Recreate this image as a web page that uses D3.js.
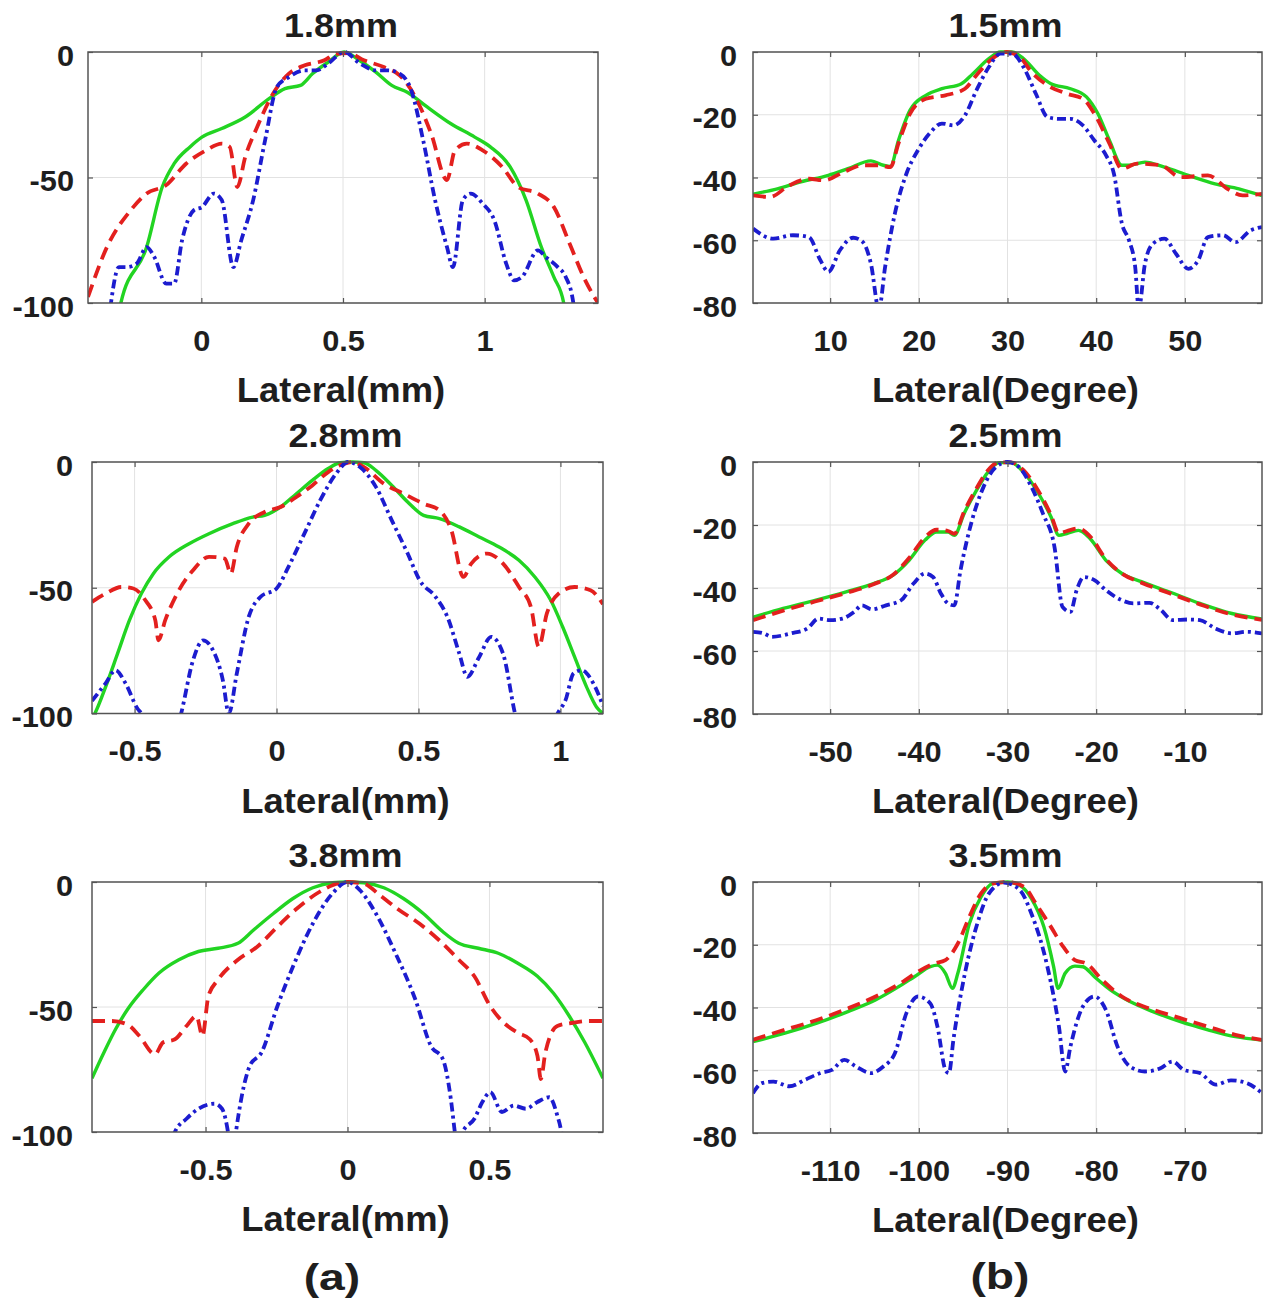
<!DOCTYPE html>
<html><head><meta charset="utf-8">
<script src="https://cdn.jsdelivr.net/npm/d3@7"></script>
<style>
body{margin:0;background:#fff}
svg text{font-family:"Liberation Sans",Arial,sans-serif;font-weight:bold;fill:#1e1e1e}
</style></head>
<body><svg id="c" width="1274" height="1298"></svg>
<script>
// ---------- data ----------
const titles = ["1.8mm","1.5mm","2.8mm","2.5mm","3.8mm","3.5mm"];
const xLabels = ["Lateral(mm)","Lateral(Degree)","Lateral(mm)","Lateral(Degree)","Lateral(mm)","Lateral(Degree)"];
const xDomains = [[-0.4,1.4],[1.3,58.7],[-0.65,1.15],[-58.7,-1.3],[-0.9,0.9],[-118.7,-61.3]];
const yDomains = [[-100,0],[-80,0],[-100,0],[-80,0],[-100,0],[-80,0]];
const xTicks = [[0,0.5,1],[10,20,30,40,50],[-0.5,0,0.5,1],[-50,-40,-30,-20,-10],[-0.5,0,0.5],[-110,-100,-90,-80,-70]];
const yTicksMm = [0,-50,-100];
const yTicksDeg = [0,-20,-40,-60,-80];
const panelLetters = ["(a)","(b)"];

// 1.8 mm
const green18 = [[-0.30,-110],[-0.284,-100],[-0.193,-77.7],[-0.138,-53.8],[-0.096,-44.5],[-0.04,-37.8],[0.002,-33.9],[0.072,-30.5],[0.155,-25.9],[0.239,-18.6],[0.295,-14.6],[0.35,-13.3],[0.393,-8.6],[0.448,-4],[0.504,0],[0.56,-3.5],[0.616,-8],[0.672,-13.3],[0.727,-16],[0.797,-21.9],[0.881,-28.6],[0.965,-33.9],[1.02,-37.8],[1.09,-45.8],[1.146,-59],[1.2,-77.7],[1.244,-89.6],[1.279,-100],[1.29,-110]];
const red18 = [[-0.4,-97.6],[-0.333,-77.7],[-0.249,-63],[-0.193,-56.4],[-0.124,-53],[-0.054,-44.5],[0.016,-39.2],[0.072,-36.5],[0.1,-37.8],[0.127,-53.8],[0.155,-41.8],[0.197,-29.9],[0.253,-16.6],[0.309,-8.6],[0.365,-5.3],[0.434,-3.3],[0.476,-0.7],[0.518,-0.4],[0.574,-3.3],[0.644,-6],[0.7,-9.3],[0.755,-17.9],[0.811,-32.5],[0.867,-51],[0.895,-39.2],[0.937,-36.5],[0.993,-39.2],[1.062,-45.8],[1.118,-53.8],[1.188,-56.4],[1.244,-61.7],[1.3,-76.4],[1.355,-91],[1.4,-100]];
const blue18 = [[-0.33,-110],[-0.319,-100],[-0.291,-85.7],[-0.263,-85.7],[-0.228,-84.3],[-0.193,-77.7],[-0.166,-81.7],[-0.124,-92.3],[-0.096,-92.3],[-0.068,-75],[-0.026,-63],[0.002,-61.8],[0.044,-56.4],[0.072,-59],[0.113,-85.7],[0.141,-75],[0.183,-59],[0.225,-35.2],[0.267,-13.9],[0.309,-10],[0.365,-7.3],[0.407,-7.3],[0.448,-4.6],[0.504,0],[0.56,-4.6],[0.616,-7.3],[0.658,-7.3],[0.7,-8.6],[0.741,-15.3],[0.783,-35.2],[0.825,-59],[0.867,-77.7],[0.888,-85.7],[0.923,-59],[0.951,-56.4],[0.993,-60.4],[1.034,-67],[1.076,-84.3],[1.104,-91],[1.132,-89.6],[1.188,-79],[1.216,-81.7],[1.258,-85.7],[1.286,-89.6],[1.313,-100],[1.32,-110]];

// 1.5 mm
const green15 = [[1.3,-45.3],[4.05,-43.6],[6.7,-41.4],[9.8,-39.3],[12,-37.2],[14.6,-34.7],[16,-36.1],[16.8,-36.5],[17.7,-28.2],[19,-18.6],[20.8,-13.8],[22.6,-11.7],[24.8,-10.1],[26.1,-6.9],[27.9,-2.1],[29.2,0],[30.5,0],[31.8,-2.1],[33.6,-7.4],[34.9,-10.1],[37.1,-11.7],[38.9,-14.3],[40.2,-19.7],[41.5,-28.2],[42.9,-36.1],[43.7,-36.1],[45.5,-35.1],[47.7,-36.7],[50.4,-39.3],[53.4,-42],[56.1,-43.6],[58.7,-45.8]];
const red15 = [[1.3,-45.7],[3.2,-46.2],[5.4,-42.5],[7.6,-40.4],[9.3,-40.9],[11.5,-38.3],[13.7,-36.1],[15.5,-36.1],[16.8,-36.7],[17.7,-29.2],[19,-19.7],[20.8,-14.9],[23,-13.8],[25.2,-11.7],[26.5,-7.4],[28.3,-2.1],[29.9,0],[31.4,-1.6],[32.7,-6.4],[34.5,-10.6],[36.7,-13.3],[38.5,-14.9],[39.8,-19.7],[41.5,-29.2],[42.9,-37.2],[44.6,-35.6],[47.3,-36.1],[49.5,-39.9],[52.6,-39.3],[54.8,-43.6],[56.5,-45.7],[58.7,-45.2]];
const blue15 = [[1.3,-56.3],[3.6,-59.5],[5.8,-58.4],[7.6,-59],[8.9,-66.4],[9.8,-70.1],[11.1,-63.2],[12.6,-59.2],[13.7,-60.6],[14.6,-67.5],[15.5,-82],[16.2,-68.5],[17.3,-51.5],[18.6,-38.8],[19.9,-31.3],[21.2,-26],[22.6,-22.8],[23.9,-23.4],[25.2,-20.2],[26.5,-12.2],[27.9,-4.8],[29.2,-0.5],[30.5,-0.5],[31.8,-4.8],[33.2,-13.3],[34.5,-20.7],[35.8,-21.3],[37.1,-21.3],[38.5,-23.4],[39.8,-28.2],[41.1,-32.9],[42,-38.8],[42.9,-54.7],[43.7,-60],[44.4,-68.5],[44.8,-82],[45.5,-67.5],[46.4,-61.1],[47.7,-59.5],[49,-64.3],[50.4,-69.1],[51.5,-66.4],[52.6,-59],[54.3,-58.4],[55.7,-60.6],[57.4,-56.9],[58.7,-55.8]];

// 2.8 mm
const green28 = [[-0.65,-102],[-0.64,-100],[-0.602,-89.4],[-0.56,-76.2],[-0.518,-62.9],[-0.476,-52.3],[-0.434,-44.4],[-0.378,-37.7],[-0.308,-32.5],[-0.238,-28.5],[-0.154,-24.5],[-0.084,-21.9],[-0.042,-21.2],[0.014,-17.9],[0.07,-12.6],[0.126,-7.3],[0.182,-2.6],[0.224,-0.3],[0.266,0],[0.308,-0.3],[0.35,-3.3],[0.406,-9.3],[0.462,-15.9],[0.518,-21.2],[0.574,-22.5],[0.644,-25.8],[0.714,-29.8],[0.784,-33.8],[0.854,-39.1],[0.91,-45.7],[0.966,-55],[1.008,-65.6],[1.05,-77.5],[1.092,-89.4],[1.127,-97.4],[1.15,-100]];
const red28 = [[-0.65,-55.6],[-0.602,-52.3],[-0.546,-49.7],[-0.504,-50.3],[-0.462,-55],[-0.427,-62.9],[-0.416,-70.9],[-0.392,-62.9],[-0.35,-52.3],[-0.294,-43],[-0.238,-37.7],[-0.182,-38.4],[-0.161,-44.4],[-0.14,-33.8],[-0.098,-24.5],[-0.042,-19.9],[0.014,-17.9],[0.07,-13.9],[0.126,-9.3],[0.182,-4],[0.238,-0.7],[0.266,0],[0.308,-2],[0.378,-8.6],[0.448,-12.6],[0.518,-16.6],[0.574,-19.2],[0.616,-27.2],[0.658,-45.7],[0.686,-40.4],[0.742,-36.4],[0.798,-40.4],[0.854,-49.7],[0.896,-57.6],[0.924,-73.5],[0.952,-60.3],[0.994,-52.3],[1.05,-49.7],[1.106,-51],[1.15,-56.5]];
const blue28 = [[-0.65,-95],[-0.602,-88],[-0.567,-82.8],[-0.532,-88],[-0.49,-98],[-0.476,-100],[-0.41,-125],[-0.336,-100],[-0.294,-78.8],[-0.259,-70.9],[-0.224,-74.8],[-0.189,-86.8],[-0.168,-100],[-0.14,-84.1],[-0.098,-61.6],[-0.056,-53.6],[0,-50.3],[0.042,-41.7],[0.098,-28.5],[0.154,-15.2],[0.21,-4.6],[0.252,0],[0.294,-2],[0.35,-9.9],[0.406,-23.2],[0.462,-36.4],[0.504,-47],[0.56,-53.6],[0.602,-61.6],[0.644,-76.2],[0.672,-85.4],[0.714,-77.5],[0.756,-69.5],[0.798,-76.2],[0.84,-100],[0.92,-125],[0.99,-100],[1.018,-94.7],[1.046,-84.1],[1.074,-82.8],[1.116,-88],[1.15,-97]];

// 2.5 mm
const green25 = [[-58.7,-49.3],[-55.3,-46.5],[-51.7,-43.9],[-48.2,-41.2],[-45.1,-38.6],[-42.9,-35.9],[-41.1,-31.2],[-39.3,-24.8],[-38,-22.2],[-36.7,-22.2],[-36,-23.3],[-34.9,-16.4],[-33.5,-9],[-32.2,-3.2],[-30.9,-0.2],[-29.6,-0.2],[-28.2,-3.2],[-26.5,-10],[-25.1,-17.4],[-24.2,-23.3],[-23.3,-22.7],[-22,-21.7],[-20.7,-24.3],[-18.9,-31.2],[-17.1,-35.4],[-14.9,-38],[-11.8,-41.2],[-8.3,-44.9],[-4.7,-48.1],[-1.3,-49.8]];
const red25 = [[-58.7,-50.2],[-55.3,-47.2],[-51.7,-44.3],[-48.2,-41.6],[-45.1,-38.8],[-42.9,-35.8],[-41.1,-30.5],[-39.3,-23.9],[-38,-21.5],[-36.7,-21.9],[-36,-22.8],[-34.9,-15.8],[-33.5,-8.4],[-32.2,-2.6],[-30.9,-0.1],[-29.6,-0.1],[-28.2,-2.6],[-26.5,-9.3],[-25.1,-16.8],[-24.2,-22.6],[-23.3,-21.9],[-22,-21.1],[-20.7,-23.6],[-18.9,-30.8],[-17.1,-35.4],[-14.9,-38.3],[-11.8,-41.6],[-8.3,-45.2],[-4.7,-48.4],[-1.3,-50.1]];
const blue25 = [[-58.7,-53.9],[-57.5,-54.4],[-56.6,-55.5],[-54.4,-54.4],[-52.6,-52.9],[-51.3,-49.7],[-50,-50.2],[-48.6,-49.7],[-47.3,-47.6],[-46.4,-45.5],[-45.3,-46.8],[-43.7,-45.5],[-42,-43.9],[-40.6,-38.6],[-39.3,-35.4],[-38.4,-36.5],[-37.5,-41.8],[-36.7,-44.9],[-36,-45.5],[-35.3,-34.4],[-34,-18.5],[-32.7,-7.9],[-31.3,-1.6],[-30,0],[-28.7,-1.6],[-27.3,-7.9],[-26,-16.4],[-24.7,-27],[-23.8,-46],[-22.9,-47.6],[-22.2,-40.7],[-21.4,-36.5],[-20.2,-37.5],[-18.9,-40.7],[-17.1,-43.9],[-15.8,-44.9],[-14,-44.7],[-12.7,-47],[-11.4,-50.2],[-9.6,-50],[-8.3,-50.2],[-6.5,-52.9],[-4.7,-54.4],[-3,-53.9],[-1.3,-54.4]];

// 3.8 mm
const green38 = [[-0.9,-78.5],[-0.858,-68.2],[-0.817,-58.9],[-0.775,-51],[-0.719,-43],[-0.664,-36.4],[-0.594,-31.1],[-0.525,-27.8],[-0.456,-26.5],[-0.386,-24.5],[-0.331,-19.2],[-0.261,-12.6],[-0.192,-6.6],[-0.122,-2.3],[-0.053,-0.3],[0,0],[0.058,-0.3],[0.128,-2.3],[0.197,-6.6],[0.267,-12.6],[0.336,-19.9],[0.392,-24.5],[0.461,-26.5],[0.531,-28.5],[0.6,-32.5],[0.669,-37.7],[0.725,-44.4],[0.781,-53.6],[0.836,-64.2],[0.9,-78.5]];
const red38 = [[-0.9,-55.6],[-0.831,-55.6],[-0.775,-57],[-0.733,-61.6],[-0.678,-68.9],[-0.65,-64.2],[-0.608,-62.9],[-0.567,-57.6],[-0.532,-53.6],[-0.511,-61.6],[-0.49,-45.7],[-0.456,-39.1],[-0.386,-31.1],[-0.317,-25.8],[-0.247,-17.9],[-0.178,-10.6],[-0.108,-4.6],[-0.053,-1.3],[0,0],[0.058,-0.7],[0.114,-5.3],[0.183,-11.3],[0.253,-16.6],[0.322,-23.2],[0.392,-31.1],[0.447,-37.7],[0.503,-49.7],[0.544,-55.6],[0.6,-60.3],[0.642,-62.9],[0.669,-69.5],[0.681,-78.8],[0.697,-68.2],[0.739,-57.6],[0.794,-56.3],[0.85,-55.6],[0.9,-55.6]];
const blue38 = [[-0.63,-110],[-0.608,-100],[-0.567,-94.7],[-0.525,-90.7],[-0.469,-88.7],[-0.442,-90.7],[-0.421,-100],[-0.407,-112],[-0.393,-100],[-0.372,-85.4],[-0.344,-73.5],[-0.303,-68.2],[-0.247,-49.7],[-0.192,-33.8],[-0.122,-16.6],[-0.053,-4.6],[0,0],[0.044,-3.3],[0.1,-12.6],[0.169,-28.5],[0.239,-47],[0.294,-65.6],[0.336,-70.9],[0.364,-86.8],[0.378,-100],[0.392,-112],[0.406,-100],[0.447,-94.7],[0.475,-88],[0.503,-84.1],[0.544,-92],[0.586,-89.4],[0.628,-90.7],[0.669,-88],[0.711,-86.1],[0.739,-93.4],[0.753,-100],[0.765,-112]];

// 3.5 mm
const green35 = [[-118.7,-50.9],[-115.1,-48.2],[-111.5,-45],[-108,-41.3],[-104.9,-37.6],[-102.3,-33.4],[-100.5,-30.2],[-98.7,-27],[-97.9,-26.5],[-97,-29.1],[-96.2,-33.9],[-95.6,-29.1],[-94.3,-13.2],[-93,-4.8],[-91.7,-0.5],[-90,0],[-88.6,-1.1],[-87.3,-5.3],[-85.9,-14.3],[-84.8,-27],[-84.3,-33.9],[-83.5,-29.1],[-82.4,-26.8],[-81.5,-27],[-80.2,-30.2],[-78.4,-34.4],[-76.2,-38.1],[-73.6,-41.3],[-70.5,-44.5],[-67.4,-47.1],[-64.3,-49.3],[-61.3,-50.4]];
const red35 = [[-118.7,-50.3],[-115.1,-47.1],[-111.5,-44],[-108,-40.3],[-104.5,-36],[-101.8,-31.8],[-100.1,-28.6],[-98.3,-26],[-97,-24.9],[-95.6,-19.6],[-94.3,-11.1],[-93,-3.7],[-91.7,-0.5],[-90,0],[-88.1,-1.6],[-86.8,-6.9],[-85.1,-14.3],[-83.7,-20.7],[-82.4,-24.9],[-81.1,-26],[-79.3,-31.3],[-77.1,-36.5],[-74,-40.3],[-70.5,-43.4],[-67.4,-46.1],[-64.3,-48.7],[-61.3,-50.3]];
const blue35 = [[-118.7,-67.3],[-117.7,-64.1],[-116.4,-63.6],[-114.6,-65.1],[-112.8,-63],[-111.1,-60.9],[-109.8,-59.9],[-108.4,-56.7],[-107.1,-58.8],[-105.4,-60.9],[-104,-58.8],[-102.7,-54.6],[-101.4,-41.8],[-100.1,-36.5],[-98.7,-38.7],[-97.9,-46.1],[-97,-59.9],[-96.6,-60.9],[-96.1,-50.3],[-94.8,-29.1],[-93.4,-13.2],[-92.1,-3.7],[-90.4,-0.2],[-88.6,-2.6],[-87.3,-10.1],[-85.5,-27],[-84.2,-46.1],[-83.5,-60.4],[-82.9,-52.4],[-81.5,-39.7],[-80.2,-36.5],[-78.9,-40.8],[-77.6,-52.4],[-76.2,-58.8],[-74.5,-60.4],[-72.7,-59.3],[-71.4,-57.2],[-70.1,-59.9],[-68.3,-60.9],[-66.5,-64.6],[-64.8,-63.2],[-63,-64.1],[-61.3,-67.3]];

const greenSeries = [green18, green15, green28, green25, green38, green35];
const redSeries = [red18, red15, red28, red25, red38, red35];
const blueSeries = [blue18, blue15, blue28, blue25, blue38, blue35];

// ---------- layout / style ----------
const boxes = [
  {l:88, r:598, t:52, b:303},
  {l:753, r:1262, t:52, b:303},
  {l:92, r:603, t:462, b:713.5},
  {l:753, r:1262, t:462, b:714},
  {l:92, r:603, t:882, b:1132},
  {l:753, r:1262, t:882, b:1133}
];
const labelRight = [74, 737, 73, 737, 73, 737];
const styles = [
  {c:"#22d422", dash:null, w:3.4},
  {c:"#e3201e", dash:"13,7", w:3.8},
  {c:"#1c1ccf", dash:"9,4,3,4", w:3.8}
];

const svg = d3.select("#c");
svg.append("rect").attr("width",1274).attr("height",1298).attr("fill","#fff");

function stretch(sel, k){
  sel.each(function(){
    const w = this.getComputedTextLength();
    d3.select(this).attr("textLength", w*k).attr("lengthAdjust","spacingAndGlyphs");
  });
}

boxes.forEach((B, i) => {
  const x = d3.scaleLinear().domain(xDomains[i]).range([B.l, B.r]);
  const y = d3.scaleLinear().domain(yDomains[i]).range([B.b, B.t]);
  const yt = (i % 2 === 0) ? yTicksMm : yTicksDeg;
  const g = svg.append("g");

  // grid
  g.append("g").selectAll("line").data(xTicks[i]).join("line")
    .attr("x1", d => x(d)).attr("x2", d => x(d)).attr("y1", B.t).attr("y2", B.b)
    .attr("stroke", "#e2e2e2").attr("stroke-width", 1);
  g.append("g").selectAll("line").data(yt).join("line")
    .attr("y1", d => y(d)).attr("y2", d => y(d)).attr("x1", B.l).attr("x2", B.r)
    .attr("stroke", "#e2e2e2").attr("stroke-width", 1);

  // clip
  const cid = "clip" + i;
  svg.append("clipPath").attr("id", cid).append("rect")
    .attr("x", B.l).attr("y", B.t - 2).attr("width", B.r - B.l).attr("height", B.b - B.t + 2);

  const line = d3.line().x(d => x(d[0])).y(d => y(d[1])).curve(d3.curveMonotoneX);
  const series = [greenSeries[i], redSeries[i], blueSeries[i]];
  series.forEach((s, k) => {
    g.append("path").datum(s)
      .attr("clip-path", `url(#${cid})`)
      .attr("d", line)
      .attr("fill", "none")
      .attr("stroke", styles[k].c)
      .attr("stroke-width", styles[k].w)
      .attr("stroke-linejoin", "round")
      .attr("stroke-dasharray", styles[k].dash);
  });

  // axes
  const ax = g.append("g").attr("transform", `translate(0,${B.b})`)
    .call(d3.axisBottom(x).tickValues(xTicks[i]).tickSizeInner(-5).tickSizeOuter(0).tickPadding(27).tickFormat(d => String(d)));
  const axTop = g.append("g").attr("transform", `translate(0,${B.t})`)
    .call(d3.axisTop(x).tickValues(xTicks[i]).tickSizeInner(-5).tickSizeOuter(0).tickFormat(""));
  const ay = g.append("g").attr("transform", `translate(${B.l},0)`)
    .call(d3.axisLeft(y).tickValues(yt).tickSizeInner(-5).tickSizeOuter(0).tickPadding(B.l - labelRight[i]).tickFormat(d => String(d)));
  const ayR = g.append("g").attr("transform", `translate(${B.r},0)`)
    .call(d3.axisRight(y).tickValues(yt).tickSizeInner(-5).tickSizeOuter(0).tickFormat(""));
  [ax, axTop, ay, ayR].forEach(a => {
    a.select(".domain").remove();
    a.selectAll(".tick line").attr("stroke", "#555").attr("stroke-width", 1.2);
    a.attr("font-family", null).attr("font-size", null);
  });
  ax.selectAll("text").attr("font-size", 29).attr("fill", "#1e1e1e");
  ay.selectAll("text").attr("font-size", 29).attr("fill", "#1e1e1e").attr("dy", "0.45em");
  stretch(ax.selectAll("text"), 1.06);
  stretch(ay.selectAll("text"), 1.06);

  // box
  g.append("rect").attr("x", B.l).attr("y", B.t).attr("width", B.r - B.l).attr("height", B.b - B.t)
    .attr("fill", "none").attr("stroke", "#555").attr("stroke-width", 1.5);

  const cx = (B.l + B.r) / 2 - 2;
  const t = g.append("text").attr("x", cx).attr("y", B.t - 15).attr("text-anchor", "middle")
    .attr("font-size", 33).text(titles[i]);
  stretch(t, 1.09);
  const xl = g.append("text").attr("x", cx).attr("y", B.b + 99).attr("text-anchor", "middle")
    .attr("font-size", 35).text(xLabels[i]);
  stretch(xl, 1.04);
});

const la = svg.append("text").attr("x", 332).attr("y", 1290).attr("text-anchor", "middle").attr("font-size", 37).text(panelLetters[0]);
const lb = svg.append("text").attr("x", 1000).attr("y", 1289).attr("text-anchor", "middle").attr("font-size", 37).text(panelLetters[1]);
stretch(la, 1.25);
stretch(lb, 1.25);
</script>
</body></html>
